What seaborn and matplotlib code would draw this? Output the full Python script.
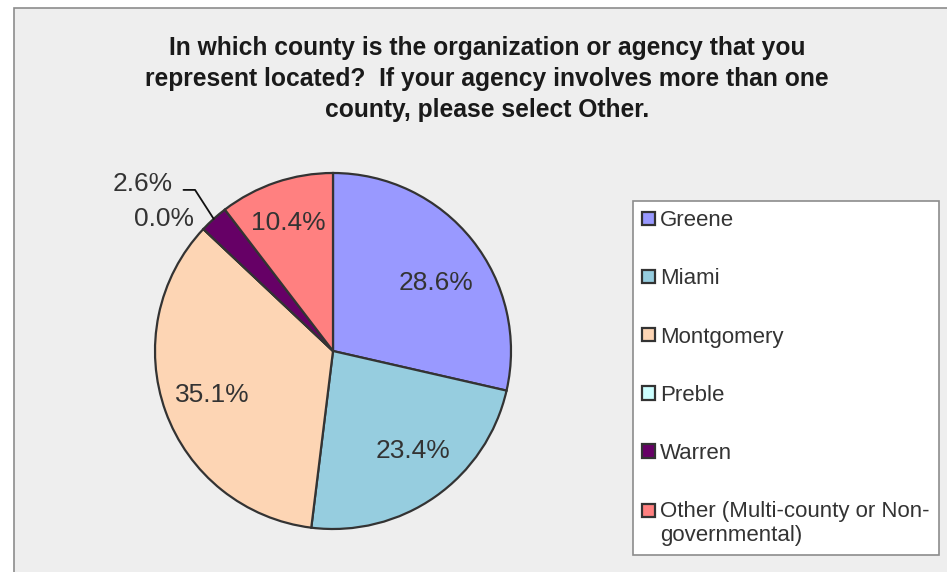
import numpy as np
import matplotlib
matplotlib.use("Agg")
import matplotlib.pyplot as plt
import matplotlib.patches as mpatches
import seaborn as sns

# Survey answers (percent of respondents)
counties = ["Greene", "Miami", "Montgomery", "Preble", "Warren",
            "Other (Multi-county or Non-\ngovernmental)"]
shares = [28.6, 23.4, 35.1, 0.0, 2.6, 10.4]
slice_colors = ["#9999ff", "#96cddf", "#fdd5b4", "#ccffff", "#660066", "#ff8080"]
title_text = ("In which county is the organization or agency that you\n"
              "represent located?  If your agency involves more than one\n"
              "county, please select Other.")

sns.set_theme(style="white")
plt.rcParams['font.family'] = ['Liberation Sans', 'DejaVu Sans']

W, H = 947, 572
fig = plt.figure(figsize=(W / 100, H / 100), dpi=100)
fig.patch.set_facecolor("white")

# grey chart area with a thin border (cropped on right and bottom)
fig.patches.append(mpatches.Rectangle(
    (14 / W, -0.05), 1.0, 1 - 8 / H + 0.05, transform=fig.transFigure,
    facecolor="#eeeeee", edgecolor="#8c8c8c", linewidth=1.2, zorder=-10))

fig.text(487 / W, 1 - 79 / H, title_text, ha="center", va="center",
         fontsize=17.7, fontweight="bold", color="#1a1a1a", linespacing=1.36)

# pie axes, centre (333, 351), radius 178 px
cx, cy, r = 333, 351, 178
ax = fig.add_axes([(cx - r) / W, 1 - (cy + r) / H, 2 * r / W, 2 * r / H])
ax.set_facecolor("none")

palette = sns.color_palette(slice_colors)
wedges, _, autotexts = ax.pie(
    shares, colors=palette, startangle=90, counterclock=False,
    autopct=lambda p: f"{p:.1f}%", pctdistance=0.72, radius=1,
    wedgeprops=dict(edgecolor="#333333", linewidth=1.6),
    textprops=dict(fontsize=19, color="#333333"))
ax.set_xlim(-1.0, 1.0)
ax.set_ylim(-1.0, 1.0)
ax.set_aspect("equal")
ax.axis("off")

# nudge labels to where the original chart put them
autotexts[0].set_position((0.58, 0.38))
autotexts[1].set_position((0.45, -0.56))
autotexts[5].set_position((-0.25, 0.72))
# small slices get labels outside the pie
autotexts[3].set_position((-0.95, 0.74))
autotexts[4].set_position((-1.07, 0.94))
for t in autotexts:
    t.set_clip_on(False)

w = wedges[4]
mid = np.deg2rad((w.theta1 + w.theta2) / 2)
ex, ey = np.cos(mid), np.sin(mid)
ax.plot([-0.84, -0.775, ex], [0.905, 0.905, ey], color="#111111",
        linewidth=1.3, clip_on=False, zorder=5)

leg = fig.legend(wedges, counties, loc="upper left",
                 bbox_to_anchor=(633 / W, 1 - 201 / H), borderaxespad=0,
                 fontsize=16, labelspacing=1.67, handlelength=0.55,
                 handleheight=0.55, handletextpad=0.25, borderpad=0.42,
                 frameon=True, fancybox=False, framealpha=1,
                 facecolor="white", edgecolor="#8c8c8c")
leg.get_frame().set_linewidth(1.2)
for t in leg.get_texts():
    t.set_color("#333333")
# two-line entry: keep its marker level with the first line
last = leg.legend_handles[-1]
last.set_y(last.get_y() + 9.4)

fig.savefig("out.png", dpi=100)
